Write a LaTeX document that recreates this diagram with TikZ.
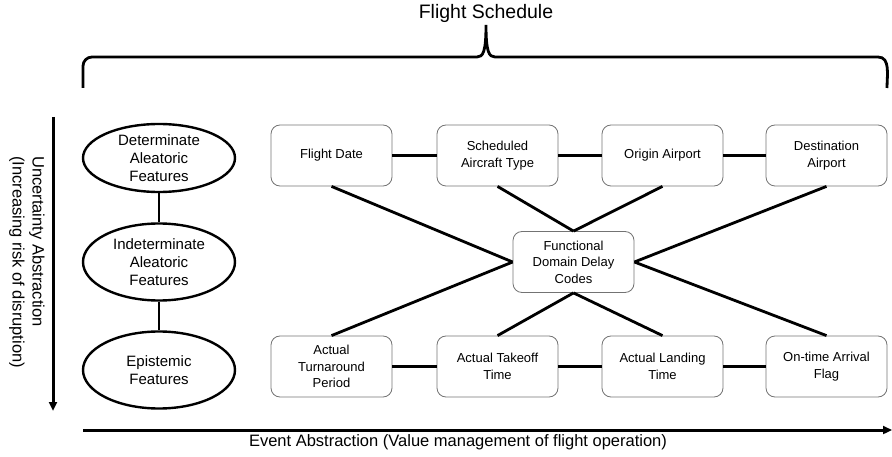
\documentclass[tikz,border=0pt]{standalone}
\usepackage{fontspec}
\setmainfont{Liberation Sans}
\usetikzlibrary{shapes.geometric,arrows.meta}
\begin{document}
\begin{tikzpicture}[x=1pt,y=-1pt,
  fbox/.style={draw=black!55, line width=0.8pt, rounded corners=9pt,
    minimum width=121pt, minimum height=61pt, inner sep=2pt, align=center,
    font=\fontsize{13}{16.5}\selectfont},
  fell/.style={ellipse, draw, line width=2.4pt, minimum width=152pt,
    inner sep=0pt, align=center, font=\fontsize{15}{18.3}\selectfont},
  conn/.style={line width=2.8pt},
  axis/.style={line width=3pt, -{Triangle[length=9pt,width=8pt]}},
  axlabel/.style={font=\fontsize{16.5}{20}\selectfont, inner sep=0pt}
]
\useasboundingbox (0,0) rectangle (892,457);

% title and brace
\node[font=\fontsize{19.5}{22}\selectfont, inner sep=0pt] (title) at (486,13) {Flight Schedule};
\coordinate (bl) at (83,88);
\coordinate (br) at (887,88);
\draw[line width=2.8pt, line join=miter] (bl) -- (83,66) to[out=90,in=180] (92,57) -- (477,57)
  .. controls (483,57) and (486,52) .. (486,25)
  .. controls (486,52) and (489,57) .. (495,57) -- (878,57) to[out=0,in=90] (br);

% ellipses
\node[fell, minimum height=68pt] (e1) at (159,158) {Determinate\\Aleatoric\\Features};
\node[fell, minimum height=77pt] (e2) at (159,262) {Indeterminate\\Aleatoric\\Features};
\node[fell, minimum height=77pt] (e3) at (159,370) {Epistemic\\Features};
\draw[conn] (e1.south) -- (e2.north);
\draw[conn] (e2.south) -- (e3.north);

% boxes top row
\node[fbox] (fd) at (331.5,155.5) {Flight Date};
\node[fbox] (sat) at (497.5,155.5) {Scheduled\\Aircraft Type};
\node[fbox] (oa) at (662.5,155.5) {Origin Airport};
\node[fbox] (da) at (826.5,155.5) {Destination\\Airport};
% center
\node[fbox] (fdc) at (573.5,262) {Functional\\Domain Delay\\Codes};
% bottom row
\node[fbox] (atp) at (331.5,366.5) {Actual\\Turnaround\\Period};
\node[fbox] (att) at (497.5,366.5) {Actual Takeoff\\Time};
\node[fbox] (alt) at (662.5,366.5) {Actual Landing\\Time};
\node[fbox] (oaf) at (826.5,366.5) {On-time Arrival\\Flag};

% row connectors
\draw[conn] (fd) -- (sat);
\draw[conn] (sat) -- (oa);
\draw[conn] (oa) -- (da);
\draw[conn] (atp) -- (att);
\draw[conn] (att) -- (alt);
\draw[conn] (alt) -- (oaf);

% cross connectors
\draw[conn] (fd.south) -- (fdc.west);
\draw[conn] (atp.north) -- (fdc.west);
\draw[conn] (sat.south) -- (fdc.north);
\draw[conn] (oa.south) -- (fdc.north);
\draw[conn] (da.south) -- (fdc.east);
\draw[conn] (oaf.north) -- (fdc.east);
\draw[conn] (att.north) -- (fdc.south);
\draw[conn] (alt.north) -- (fdc.south);

% axes
\coordinate (vtop) at (53,117);
\coordinate (vbot) at (53,411);
\draw[axis] (vtop) -- (vbot);
\node[axlabel, rotate=-90, anchor=west, align=left] (vlab) at (27,156)
  {Uncertainty Abstraction\\(Increasing risk of disruption)};
\coordinate (hl) at (83,430);
\coordinate (hr) at (892,430);
\draw[axis] (hl) -- (hr);
\node[axlabel] (hlab) at (458,442) {Event Abstraction (Value management of flight operation)};
\end{tikzpicture}
\end{document}
